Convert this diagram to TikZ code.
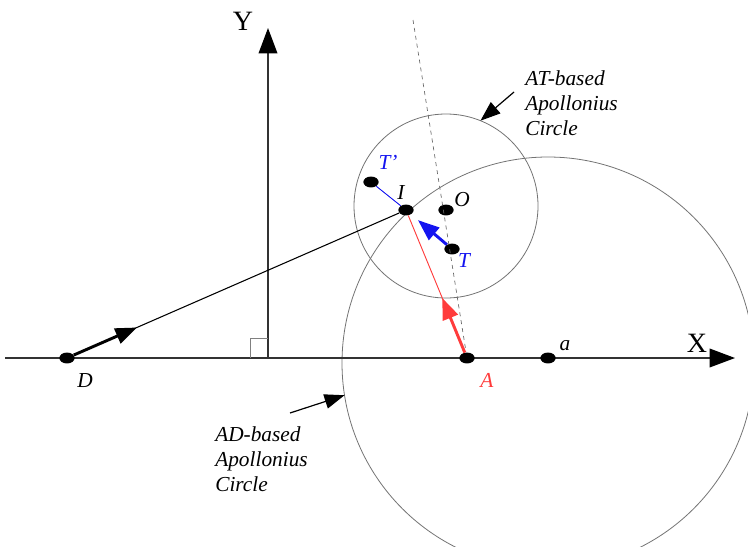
\documentclass[tikz,border=0pt]{standalone}
\usepackage{fontspec}
\setmainfont{Liberation Serif}
\usetikzlibrary{arrows.meta,shapes.geometric,calc}
\definecolor{ptred}{RGB}{255,60,60}
\definecolor{ptblue}{RGB}{20,20,240}

\begin{document}
\begin{tikzpicture}[x=0.75pt,y=-0.75pt,
  blob/.style={ellipse,fill=black,inner sep=0pt,minimum width=11.5pt,minimum height=8.2pt},
  lbl/.style={font=\fontsize{16}{18.75}\selectfont\itshape,inner sep=0pt},
  axislbl/.style={font=\fontsize{21}{24}\selectfont,inner sep=0pt},
  axis/.style={draw=black!80,line width=1pt,-{Triangle[length=19pt,width=14pt,fill=black,color=black]}},
  apo/.style={circle,draw=black!55,line width=0.6pt,inner sep=0pt,outer sep=0pt},
  fat/.style={line width=2.2pt,-{Triangle[length=16pt,width=12pt]}},
  pointer/.style={line width=0.9pt,-{Triangle[length=15pt,width=11pt]}}]
\useasboundingbox (0,0) rectangle (748,546);
\clip (0,0) rectangle (748,546);

\coordinate (xstart) at (5,358);
\coordinate (xend) at (735,358);
\coordinate (origin) at (268,358);
\coordinate (yend) at (268,28);
\coordinate (dtop) at (413,20);
\coordinate (ATtail) at (514,92);
\coordinate (ADtail) at (290,413);

\node[apo,minimum size=138pt] (ATc) at (446,206) {};
\node[apo,minimum size=309pt] (ADc) at (548,363) {};

\draw[axis] (xstart) -- (xend);
\draw[axis] (origin) -- (yend);
\draw[black!50,line width=0.5pt] ($(origin)+(-18,0)$) |- ($(origin)+(0,-20)$);

\node[blob] (D) at (67,358) {};
\node[blob] (I) at (406,210) {};
\node[blob] (Tp) at (371,182) {};
\node[blob] (T) at (452,249) {};
\node[blob] (O) at (446,210) {};
\node[blob] (A) at (467,358) {};
\node[blob] (a) at (548,358) {};

\draw[dashed,black!60,line width=0.5pt] (dtop) -- (A);
\draw[line width=0.8pt] (D) -- (I);
\draw[fat] (D) -- ($(D)!0.206!(I)$);
\draw[ptred,line width=0.7pt] (A) -- (I);
\draw[ptred,fat] (A) -- ($(A)!0.405!(I)$);
\draw[ptblue,line width=0.7pt] (Tp) -- (I);
\draw[ptblue,fat] (T) -- ($(T)!0.74!(I)$);

\node[axislbl] (Ylbl) at (243,21) {Y};
\node[axislbl] (Xlbl) at (697,343) {X};
\node[lbl] (Dl) at (85,381) {D};
\node[lbl,text=ptred] (Al) at (487,380) {A};
\node[lbl] (al) at (565,346) {a};
\node[lbl,text=ptblue] (Tl) at (464,261) {T};
\node[lbl,text=ptblue] (Tpl) at (388,162) {T'};
\node[lbl] (Il) at (401,193) {I};
\node[lbl] (Ol) at (462,200) {O};

\node[lbl,anchor=west,align=left] (ATtxt) at (525,103) {AT-based\\Apollonius\\Circle};
\node[lbl,anchor=west,align=left] (ADtxt) at (215,459) {AD-based\\Apollonius\\Circle};
\draw[pointer] (ATtail) -- (ATc.68);
\draw[pointer] (ADtail) -- (ADc.189);
\end{tikzpicture}
\end{document}
